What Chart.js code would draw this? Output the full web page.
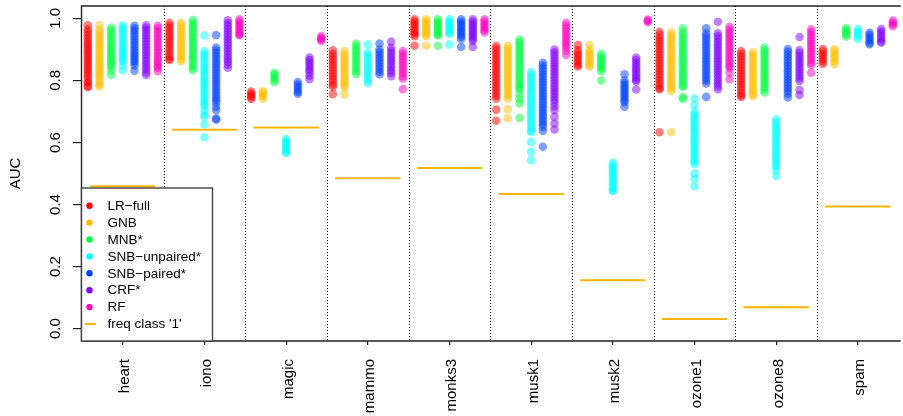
<!DOCTYPE html>
<html><head><meta charset="utf-8">
<script src="https://cdn.jsdelivr.net/npm/chart.js@4"></script>
<style>html,body{margin:0;padding:0;background:#fff}#wrap{width:903px;height:416px}</style>
</head><body><div id="wrap"><canvas id="c" width="903" height="416"></canvas></div>
<script>
const categories = ['heart','iono','magic','mammo','monks3','musk1','musk2','ozone1','ozone8','spam'];
const methods = ['LR\u2212full','GNB','MNB*','SNB\u2212unpaired*','SNB\u2212paired*','CRF*','RF'];
const freqLabel = "freq class '1'";
const yTicks = [0,0.2,0.4,0.6,0.8,1.0];
const yTickLabels = ['0.0','0.2','0.4','0.6','0.8','1.0'];
const freqClass1 = [.459,.641,.648,.485,.518,.434,.156,.031,.069,.394];

const LR_full = [
 [.978,.964,.955,.946,.937,.928,.92,.912,.904,.896,.888,.88,.872,.864,.856,.848,.84,.832,.824,.816,.808,.796,.793,.781,.779],
 [.986,.977,.968,.959,.95,.941,.932,.923,.914,.905,.896,.887,.878,.87,.866],
 [.764,.758,.752,.746,.74],
 [.897,.886,.877,.868,.859,.85,.841,.832,.823,.814,.805,.796,.787,.78,.756],
 [.997,.99,.983,.976,.969,.962,.955,.948,.943,.912],
 [.912,.903,.894,.885,.876,.867,.858,.849,.84,.831,.822,.813,.804,.795,.786,.777,.768,.759,.75,.741,.706,.67],
 [.914,.898,.89,.882,.874,.866,.858,.85,.845],
 [.957,.946,.937,.928,.919,.91,.901,.892,.883,.874,.865,.856,.847,.838,.829,.82,.811,.802,.793,.784,.775,.772,.633],
 [.895,.886,.877,.868,.859,.85,.841,.832,.823,.814,.805,.796,.787,.778,.769,.76,.752,.747],
 [.901,.893,.885,.877,.869,.861,.853]
];
const GNB = [
 [.978,.963,.954,.945,.936,.927,.918,.91,.902,.894,.886,.878,.87,.862,.854,.846,.838,.83,.822,.814,.806,.797,.786,.781],
 [.986,.977,.968,.959,.95,.941,.932,.923,.914,.905,.896,.887,.878,.869,.862],
 [.766,.76,.754,.748,.741],
 [.895,.884,.875,.866,.857,.848,.839,.83,.821,.812,.803,.794,.785,.778,.755],
 [.997,.99,.983,.976,.969,.962,.955,.948,.943,.912],
 [.912,.903,.894,.885,.876,.867,.858,.849,.84,.831,.822,.813,.804,.795,.786,.777,.768,.759,.75,.742,.707,.678],
 [.914,.898,.89,.882,.874,.866,.858,.85,.844],
 [.955,.945,.936,.927,.918,.909,.9,.891,.882,.873,.864,.855,.846,.837,.828,.819,.81,.801,.792,.783,.774,.766,.633],
 [.891,.882,.873,.864,.855,.846,.837,.828,.819,.81,.801,.792,.783,.774,.765,.756,.749],
 [.901,.893,.885,.877,.869,.861,.852]
];
const MNB = [
 [.97,.962,.953,.944,.935,.926,.917,.908,.9,.892,.884,.876,.868,.86,.852,.845,.832,.818],
 [.995,.986,.977,.968,.959,.95,.941,.932,.923,.914,.905,.896,.887,.878,.869,.86,.85,.842,.833],
 [.825,.818,.81,.802,.794],
 [.919,.91,.901,.892,.883,.874,.865,.856,.847,.838,.829,.82],
 [.997,.99,.983,.976,.969,.962,.955,.948,.945,.912],
 [.932,.923,.914,.905,.896,.887,.878,.869,.86,.851,.842,.833,.824,.815,.806,.797,.788,.779,.772,.755,.74,.726,.679],
 [.886,.878,.87,.862,.854,.846,.838,.83,.8],
 [.968,.955,.946,.937,.928,.919,.91,.901,.892,.883,.874,.865,.856,.847,.838,.829,.82,.811,.802,.793,.784,.78,.747,.74],
 [.906,.897,.888,.879,.87,.861,.852,.843,.834,.825,.816,.807,.798,.789,.78,.771,.761],
 [.969,.962,.955,.948,.941]
];
const SNB_unpaired = [
 [.978,.97,.962,.953,.944,.935,.926,.917,.908,.9,.892,.884,.876,.868,.862,.848,.833],
 [.945,.895,.886,.877,.868,.859,.85,.841,.832,.823,.814,.805,.796,.787,.778,.769,.76,.751,.742,.733,.725,.718,.704,.69,.683,.659,.617],
 [.612,.605,.598,.591,.584,.577,.57,.566],
 [.916,.89,.881,.872,.863,.854,.845,.836,.827,.818,.809,.8,.791],
 [.997,.99,.983,.976,.969,.962,.955,.95,.916],
 [.827,.818,.809,.8,.791,.782,.773,.764,.755,.746,.737,.728,.719,.71,.701,.692,.683,.674,.665,.656,.647,.638,.634,.602,.57,.543],
 [.535,.527,.519,.511,.503,.495,.487,.479,.471,.463,.455,.447,.443],
 [.742,.72,.699,.69,.681,.672,.663,.654,.645,.636,.627,.618,.609,.6,.591,.582,.573,.564,.555,.546,.537,.53,.5,.484,.459],
 [.675,.666,.657,.648,.639,.63,.621,.612,.603,.594,.585,.576,.567,.558,.549,.54,.531,.522,.51,.491],
 [.966,.958,.95,.942,.934]
];
const SNB_paired = [
 [.976,.968,.96,.951,.942,.933,.924,.915,.906,.897,.888,.88,.872,.864,.857,.848,.831],
 [.946,.906,.897,.888,.879,.87,.861,.852,.843,.834,.825,.816,.807,.798,.789,.78,.771,.762,.753,.744,.736,.728,.715,.704,.677,.674],
 [.795,.787,.779,.771,.763,.757],
 [.919,.9,.891,.882,.873,.864,.855,.846,.837,.828,.82],
 [.997,.99,.983,.976,.969,.962,.955,.948,.941,.934,.908],
 [.857,.848,.839,.83,.821,.812,.803,.794,.785,.776,.767,.758,.749,.74,.731,.722,.713,.704,.695,.686,.677,.668,.659,.65,.637,.586],
 [.82,.8,.792,.784,.776,.768,.76,.752,.744,.736,.73,.715],
 [.968,.952,.943,.934,.925,.916,.907,.898,.889,.88,.871,.862,.853,.844,.835,.826,.817,.808,.799,.79,.747],
 [.901,.892,.883,.874,.865,.856,.847,.838,.829,.82,.811,.802,.793,.784,.775,.766,.757,.745],
 [.954,.946,.938,.93,.922,.917]
];
const CRF = [
 [.978,.97,.962,.953,.944,.935,.926,.917,.908,.899,.89,.881,.872,.863,.854,.845,.836,.826,.818],
 [.994,.985,.976,.967,.958,.949,.94,.931,.922,.913,.904,.895,.886,.877,.868,.86,.851,.841],
 [.874,.866,.858,.85,.842,.834,.826,.815,.804],
 [.925,.905,.896,.887,.878,.869,.86,.851,.842,.833,.824,.814],
 [.997,.99,.983,.976,.969,.962,.955,.948,.941,.934,.927,.908],
 [.9,.891,.882,.873,.864,.855,.846,.837,.828,.819,.81,.801,.792,.783,.774,.765,.756,.747,.738,.728,.716,.704,.683,.661,.642],
 [.874,.866,.858,.85,.842,.834,.826,.818,.81,.802,.797,.771],
 [.989,.952,.943,.934,.925,.916,.907,.898,.889,.88,.871,.862,.853,.844,.835,.826,.817,.808,.799,.79,.781,.772],
 [.94,.897,.888,.879,.87,.861,.852,.843,.834,.825,.816,.807,.798,.769,.753],
 [.966,.958,.95,.942,.934,.926,.922]
];
const RF = [
 [.976,.968,.96,.951,.942,.933,.924,.915,.906,.897,.888,.879,.87,.862,.854,.846,.84,.83],
 [.997,.99,.983,.976,.969,.962,.955,.948,.946],
 [.943,.937,.932,.927],
 [.895,.886,.877,.868,.859,.85,.841,.832,.823,.814,.806,.772],
 [.997,.99,.983,.976,.969,.962,.955],
 [.986,.977,.968,.959,.95,.941,.932,.923,.914,.906,.895,.882],
 [.996,.992,.988],
 [.973,.964,.955,.946,.937,.928,.919,.91,.901,.892,.883,.874,.865,.856,.847,.841,.825,.804],
 [.965,.956,.947,.938,.929,.92,.911,.902,.893,.884,.875,.866,.857,.85,.825],
 [.993,.987,.981,.975]
];

const methodValues = [LR_full, GNB, MNB, SNB_unpaired, SNB_paired, CRF, RF];
const colors = [[255,0,0],[255,191,0],[0,255,64],[0,255,255],[0,64,255],[128,0,255],[255,0,191]];
const freqColor = '#FFB400';
const FONT = "'Liberation Sans', Arial, Helvetica, sans-serif";
const rgba = (c,a) => `rgba(${c[0]},${c[1]},${c[2]},${a})`;

const datasets = methods.map((m, j) => ({
  type: 'scatter',
  label: m,
  data: methodValues[j].flatMap((vals, i) => vals.map(v => ({x: i + 1 + (j - 3) / 7, y: v}))),
  backgroundColor: rgba(colors[j], 0.5),
  borderWidth: 0,
  pointRadius: 4.3,
  pointHoverRadius: 4.3
}));
const freqData = [];
freqClass1.forEach((f, i) => {
  freqData.push({x: i + 1 - 0.4, y: f}, {x: i + 1 + 0.4, y: f}, {x: i + 1 + 0.45, y: null});
});
datasets.push({
  type: 'scatter', label: freqLabel, data: freqData, showLine: true, spanGaps: false,
  borderColor: freqColor, borderWidth: 2, pointRadius: 0, fill: false
});

const decor = {
  id: 'decor',
  beforeDatasetsDraw(chart) {
    const {ctx, chartArea: a, scales: {x}} = chart;
    ctx.save();
    ctx.strokeStyle = '#000'; ctx.lineWidth = 1; ctx.setLineDash([1, 2]);
    for (let i = 1; i < categories.length; i++) {
      const px = Math.round(x.getPixelForValue(i + 0.5)) + 0.5;
      ctx.beginPath(); ctx.moveTo(px, a.top); ctx.lineTo(px, a.bottom); ctx.stroke();
    }
    ctx.restore();
  },
  afterDatasetsDraw(chart) {
    const {ctx, chartArea: a, scales: {x, y}} = chart;
    ctx.save();
    // frame
    ctx.strokeStyle = '#222'; ctx.lineWidth = 1.4;
    ctx.beginPath();
    ctx.moveTo(a.right + 2, a.top); ctx.lineTo(a.left - 0.5, a.top);
    ctx.lineTo(a.left - 0.5, a.bottom); ctx.lineTo(a.right + 2, a.bottom);
    ctx.stroke();
    // legend
    const lx = a.left - 0.5, ly = 188, lw = 131, lh = a.bottom - ly;
    ctx.fillStyle = '#fff'; ctx.fillRect(lx, ly, lw, lh);
    ctx.strokeStyle = '#444'; ctx.lineWidth = 1.4; ctx.strokeRect(lx, ly, lw, lh);
    ctx.font = '13.5px ' + FONT; ctx.textBaseline = 'middle'; ctx.textAlign = 'left';
    const labels = methods.concat([freqLabel]);
    labels.forEach((t, k) => {
      const cy = 205.7 + k * 16.9;
      if (k < methods.length) {
        ctx.fillStyle = rgba(colors[k], 1);
        ctx.beginPath(); ctx.arc(89.5, cy, 3.2, 0, Math.PI * 2); ctx.fill();
      } else {
        ctx.strokeStyle = freqColor; ctx.lineWidth = 2;
        ctx.beginPath(); ctx.moveTo(85, cy); ctx.lineTo(96, cy); ctx.stroke();
      }
      ctx.fillStyle = '#000';
      ctx.fillText(t, 107.5, cy + 0.5);
    });
    // y tick labels
    ctx.font = '15px ' + FONT; ctx.fillStyle = '#000';
    ctx.textAlign = 'center'; ctx.textBaseline = 'alphabetic';
    yTicks.forEach((v, k) => {
      ctx.save(); ctx.translate(60, y.getPixelForValue(v)); ctx.rotate(-Math.PI / 2);
      ctx.fillText(yTickLabels[k], 0, 0); ctx.restore();
    });
    // x tick labels
    ctx.textAlign = 'right';
    categories.forEach((c, i) => {
      ctx.save(); ctx.translate(x.getPixelForValue(i + 1) + 6.5, 359); ctx.rotate(-Math.PI / 2);
      ctx.fillText(c, 0, 0); ctx.restore();
    });
    // axis title
    ctx.textAlign = 'center';
    ctx.save(); ctx.translate(20, (a.top + a.bottom) / 2); ctx.rotate(-Math.PI / 2);
    ctx.fillText('AUC', 0, 0); ctx.restore();
    ctx.restore();
  }
};

new Chart(document.getElementById('c'), {
  type: 'scatter',
  data: {datasets},
  options: {
    responsive: false, animation: false, devicePixelRatio: 1, events: [],
    layout: {padding: {top: 6, left: 0, right: 0, bottom: 0}},
    plugins: {legend: {display: false}, tooltip: {enabled: false}},
    scales: {
      x: {
        type: 'linear', min: 0.5, max: 10.5,
        afterBuildTicks: s => { s.ticks = categories.map((c, i) => ({value: i + 1})); },
        afterFit: s => { s.height = 75; },
        ticks: {display: false},
        grid: {display: true, drawOnChartArea: false, drawTicks: true, tickLength: 4, color: '#222', lineWidth: 1.2},
        border: {display: false}
      },
      y: {
        type: 'linear', min: -0.04, max: 1.04,
        afterBuildTicks: s => { s.ticks = yTicks.map(v => ({value: v})); },
        afterFit: s => { s.width = 82; },
        ticks: {display: false},
        grid: {display: true, drawOnChartArea: false, drawTicks: true, tickLength: 9, color: '#222', lineWidth: 1.2},
        border: {display: false}
      }
    }
  },
  plugins: [decor]
});
</script>
</body></html>
